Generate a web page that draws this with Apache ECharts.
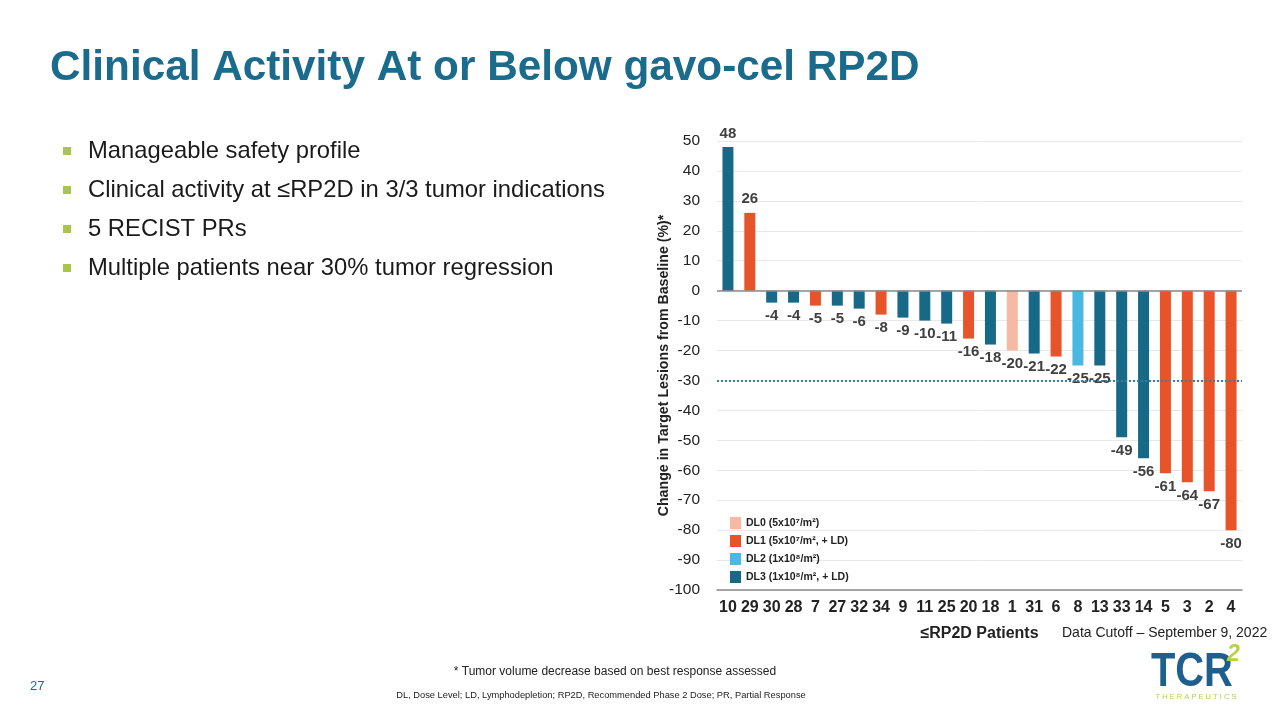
<!DOCTYPE html>
<html><head><meta charset="utf-8">
<script src="https://cdn.jsdelivr.net/npm/echarts@6/dist/echarts.min.js"></script>
<style>html,body{margin:0;padding:0;background:#fff;}#c{width:1280px;height:720px;}</style>
</head><body><div id="c"></div>
<script>
const patients = ['10','29','30','28','7','27','32','34','9','11','25','20','18','1','31','6','8','13','33','14','5','3','2','4'];
const changes = [48,26,-4,-4,-5,-5,-6,-8,-9,-10,-11,-16,-18,-20,-21,-22,-25,-25,-49,-56,-61,-64,-67,-80];
const doseLevel = [3,1,3,3,1,3,3,1,3,3,3,1,3,0,3,1,2,3,3,3,1,1,1,1];
const levelNames = ['DL0 (5x10⁷/m²)','DL1 (5x10⁷/m², + LD)','DL2 (1x10⁸/m²)','DL3 (1x10⁸/m², + LD)'];
const levelColors = ['#f5b9a4','#e8542a','#4ab8e2','#166a88'];
const yTicks = {min:-100, max:50, interval:10};
const bullets = ['Manageable safety profile','Clinical activity at ≤RP2D in 3/3 tumor indications','5 RECIST PRs','Multiple patients near 30% tumor regression'];

const FONT = '"Liberation Sans", Arial, sans-serif';
const series = levelNames.map((name, li) => ({
  name, type:'bar', barWidth:11, barGap:'-100%',
  itemStyle:{color:levelColors[li]},
  data: changes.map((v,i) => doseLevel[i]===li ? {
    value:v,
    label:{show:true, position: v>=0?'top':'bottom', distance:6,
      fontFamily:FONT, fontSize:15, fontWeight:'bold', color:'#404040'}
  } : '-'),
  markLine: li===3 ? {silent:true, symbol:'none', label:{show:false},
    data:[
      {yAxis:0, lineStyle:{color:'#8a8a8a', type:'solid', width:1.5}},
      {yAxis:-30, lineStyle:{color:'#3d7e9c', type:'dotted', width:2}}
    ]} : undefined
}));

const graphics = [];
bullets.forEach((b,i) => {
  const y = 151 + i*39;
  graphics.push({type:'rect', shape:{x:63,y:y-4,width:8,height:8}, style:{fill:'#a9c64a'}});
  graphics.push({type:'text', x:88, y:y, style:{text:b, fontFamily:FONT, fontSize:23.8, fill:'#1a1a1a', textVerticalAlign:'middle'}});
});
graphics.push({type:'text', x:1062, y:633, style:{text:'Data Cutoff – September 9, 2022', fontFamily:FONT, fontSize:14, fill:'#222', textVerticalAlign:'middle'}});
graphics.push({type:'text', x:615, y:672, style:{text:'* Tumor volume decrease based on best response assessed', fontFamily:FONT, fontSize:12, fill:'#222', textAlign:'center', textVerticalAlign:'middle'}});
graphics.push({type:'text', x:601, y:695, style:{text:'DL, Dose Level; LD, Lymphodepletion; RP2D, Recommended Phase 2 Dose; PR, Partial Response', fontFamily:FONT, fontSize:9.3, fill:'#222', textAlign:'center', textVerticalAlign:'middle'}});
graphics.push({type:'text', x:30, y:686, style:{text:'27', fontFamily:FONT, fontSize:13, fill:'#1f6a8c', textVerticalAlign:'middle'}});
graphics.push({type:'text', x:1151, y:673, scaleX:0.83, style:{text:'TCR', fontFamily:FONT, fontSize:48, fontWeight:'bold', fill:'#1f5f8d', textVerticalAlign:'middle'}});
graphics.push({type:'text', x:1227, y:655, style:{text:'2', fontFamily:FONT, fontSize:23, fontWeight:'bold', fontStyle:'italic', fill:'#b6d14a', textVerticalAlign:'middle'}});
graphics.push({type:'text', x:1196, y:697, style:{text:'T H E R A P E U T I C S', fontFamily:FONT, fontSize:7.5, fill:'#b6d14a', textAlign:'center', textVerticalAlign:'middle'}});

const chart = echarts.init(document.getElementById('c'), null, {renderer:'canvas'});
chart.setOption({
  animation:false,
  backgroundColor:'#fff',
  title:{text:'Clinical Activity At or Below gavo-cel RP2D', left:45, top:42,
    textStyle:{fontFamily:FONT, fontSize:42.3, fontWeight:'bold', color:'#1b6b8c'}},
  grid:{left:717, right:38, top:141, bottom:130},
  legend:{orient:'vertical', left:725, top:512, itemWidth:11, itemHeight:12, itemGap:6,
    icon:'rect', selectedMode:false,
    textStyle:{fontFamily:FONT, fontSize:10.5, fontWeight:'bold', color:'#222'},
    data:levelNames},
  xAxis:{type:'category', data:patients, position:'bottom',
    axisLine:{onZero:false, lineStyle:{color:'#8a8a8a', width:1.5}},
    axisTick:{show:false},
    axisLabel:{fontFamily:FONT, fontSize:16, fontWeight:'bold', color:'#222', margin:10, interval:0},
    name:'≤RP2D Patients', nameLocation:'middle', nameGap:36, nameMoveOverlap:false,
    nameTextStyle:{fontFamily:FONT, fontSize:16, fontWeight:'bold', color:'#222'}},
  yAxis:{type:'value', min:yTicks.min, max:yTicks.max, interval:yTicks.interval,
    axisLine:{show:false}, axisTick:{show:false},
    splitLine:{lineStyle:{color:'#e8e8e8'}},
    axisLabel:{fontFamily:FONT, fontSize:15.5, color:'#222', margin:17},
    name:'Change in Target Lesions from Baseline (%)*', nameLocation:'middle', nameGap:46, nameMoveOverlap:false,
    nameTextStyle:{fontFamily:FONT, fontSize:14.2, fontWeight:'bold', color:'#222'}},
  series,
  graphic:graphics
});
</script></body></html>
